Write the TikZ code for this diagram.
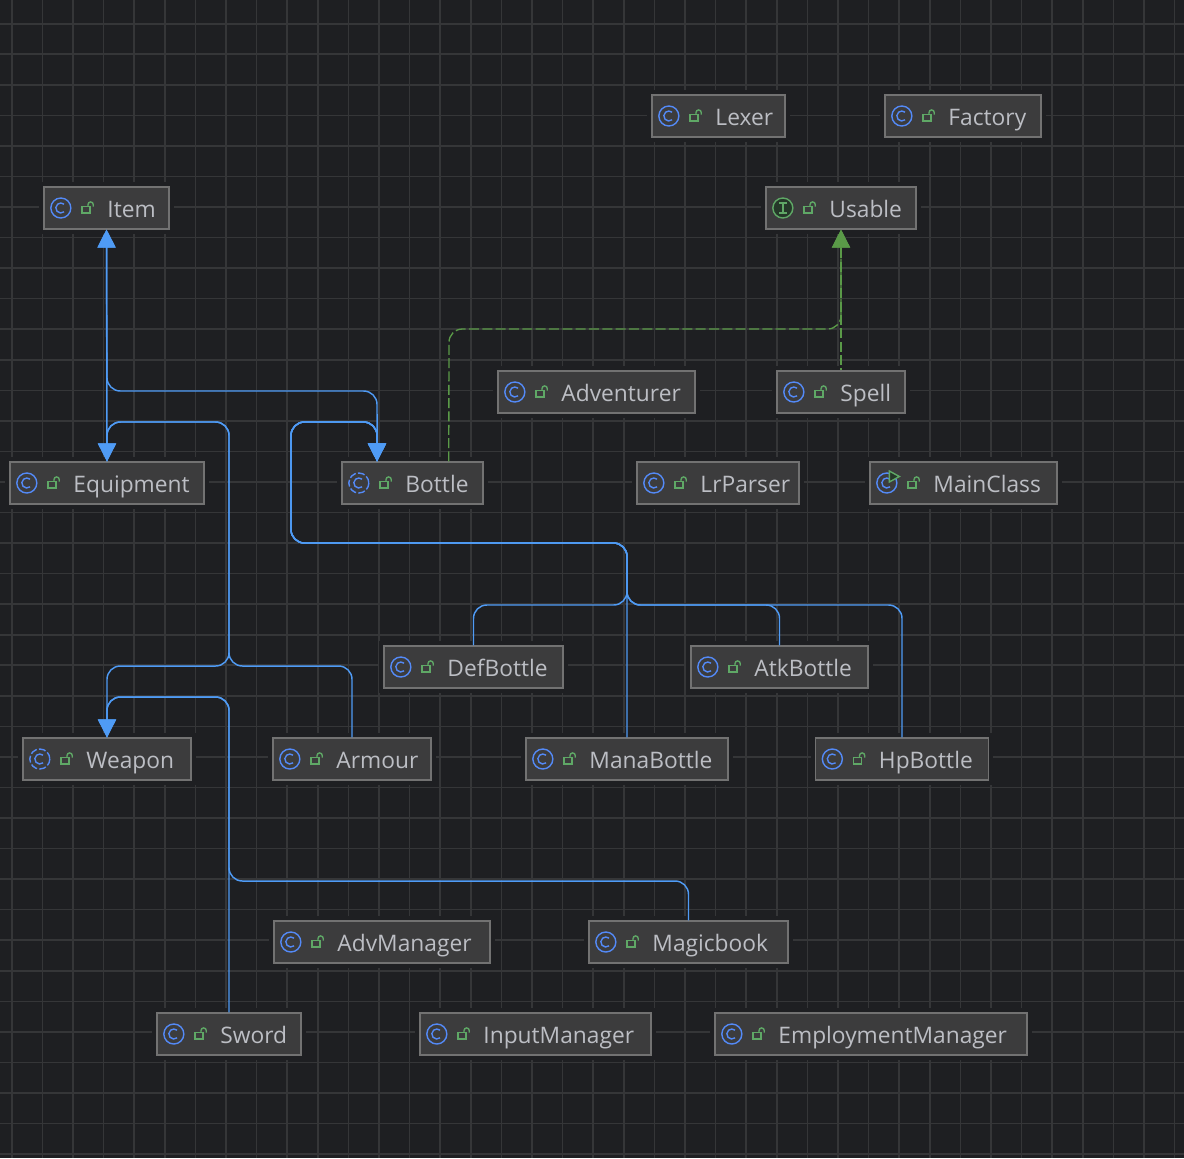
\documentclass[tikz,border=0pt]{standalone}
\usepackage{fontspec}
\setmainfont{Open Sans}
\usepackage{tikz}
\usetikzlibrary{arrows.meta}

\definecolor{canvas}{HTML}{1E1F22}
\definecolor{gridline}{HTML}{353638}
\definecolor{boxfill}{HTML}{3C3C3D}
\definecolor{boxline}{HTML}{727272}
\definecolor{label}{HTML}{BCBEC4}
\definecolor{iconblue}{HTML}{548AF7}
\definecolor{icongreen}{HTML}{5FA866}
\definecolor{ifacefill}{HTML}{253829}
\definecolor{extblue}{HTML}{4F9BF5}
\definecolor{implgreen}{HTML}{5A9A48}

\begin{document}
\begin{tikzpicture}[
  x=0.75pt, y=-0.75pt,
  font=\fontsize{17bp}{21bp}\selectfont,
  box/.style={draw=boxline, fill=boxfill, line width=1pt, text=label,
              preaction={draw=canvas, line width=7pt},
              minimum height=31.3pt, inner xsep=0pt, inner ysep=0pt, align=left,
              text height=15pt, text depth=1.5pt,
              execute at begin node={\hspace*{47.6pt}}},
  wd/.style={minimum width=#1*0.75pt, text width=#1*0.75pt},
  icon/.style={line width=1.05pt},
  lockmark/.pic={
    \draw[icon, icongreen] (38.7,-1.5) rectangle (46.7,5);
    \draw[icon, icongreen] (44.7,-1.5) -- (44.7,-3.5)
      arc[start angle=180, end angle=360, radius=2.6] -- (49.9,-1.5);
  },
  cmark/.pic={
    \draw[icon, iconblue] (17.5,0) ++(50:5) arc[start angle=50, end angle=310, radius=5];
  },
  klasspic/.pic={
    \draw[icon, iconblue] (17.5,0) circle[radius=10];
    \pic {cmark}; \pic {lockmark};
  },
  abstrpic/.pic={
    \draw[icon, iconblue, dash pattern=on 5.2pt off 1.7pt] (17.5,0) circle[radius=10];
    \pic {cmark}; \pic {lockmark};
  },
  ifacepic/.pic={
    \draw[icon, icongreen, fill=ifacefill] (17.5,0) circle[radius=10];
    \draw[icon, icongreen] (13.5,-5) -- (21.5,-5) (17.5,-5) -- (17.5,5) (13.5,5) -- (21.5,5);
    \pic {lockmark};
  },
  runnerpic/.pic={
    \draw[icon, iconblue] (17.5,0) circle[radius=10];
    \pic {cmark};
    \draw[icon, icongreen, fill=ifacefill] (20,-12) -- (30,-6.5) -- (20,-1) -- cycle;
    \pic {lockmark};
  },
  klass/.style={box, append after command={pic at (\tikzlastnode.west) {klasspic}}},
  abstr/.style={box, append after command={pic at (\tikzlastnode.west) {abstrpic}}},
  iface/.style={box, append after command={pic at (\tikzlastnode.west) {ifacepic}}},
  runner/.style={box, append after command={pic at (\tikzlastnode.west) {runnerpic}}},
  ext/.style={draw=extblue, line width=1.1pt, rounded corners=10pt,
              -{Triangle[length=13.5pt, width=13.5pt]}},
  impl/.style={draw=implgreen, line width=1pt, rounded corners=10pt, dash pattern=on 7.5pt off 2.5pt,
               -{Triangle[length=13.5pt, width=13.5pt, fill=implgreen]}}
]
\useasboundingbox (0,0) rectangle (1184,1158);
\fill[canvas] (0,0) rectangle (1184,1158);
% grid
\foreach \k in {0,...,38} {
  \draw[gridline, line width=1.2pt] ({11.7+30.6*\k},0) -- ({11.7+30.6*\k},1158);
  \draw[gridline, line width=1.2pt] (0,{23.7+30.55*\k}) -- (1184,{23.7+30.55*\k});
}

\node[klass, wd=133] (lexer) at (718.5,116) {Lexer};
\node[klass, wd=156] (factory) at (963,116) {Factory};
\node[klass, wd=125] (item) at (106.5,208) {Item};
\node[iface, wd=150] (usable) at (841,208) {Usable};
\node[klass, wd=197] (adventurer) at (596.5,392) {Adventurer};
\node[klass, wd=128] (spell) at (841,392) {Spell};
\node[klass, wd=194] (equip) at (107,483) {Equipment};
\node[abstr, wd=141] (bottle) at (412.5,483) {Bottle};
\node[klass, wd=162] (lrparser) at (718,483) {LrParser};
\node[runner, wd=187] (mainclass) at (963.5,483) {MainClass};
\node[klass, wd=179] (defbottle) at (473.5,667) {DefBottle};
\node[klass, wd=177] (atkbottle) at (779.5,667) {AtkBottle};
\node[abstr, wd=168] (weapon) at (107,759) {Weapon};
\node[klass, wd=158] (armour) at (352,759) {Armour};
\node[klass, wd=202] (manabottle) at (627,759) {ManaBottle};
\node[klass, wd=173] (hpbottle) at (902,759) {HpBottle};
\node[klass, wd=216] (advmanager) at (382,942) {AdvManager};
\node[klass, wd=199] (magicbook) at (688.5,942) {Magicbook};
\node[klass, wd=144] (sword) at (229,1034) {Sword};
\node[klass, wd=231] (inputmanager) at (535.5,1034) {InputManager};
\node[klass, wd=312] (employmgr) at (871,1034) {EmploymentManager};

\coordinate (bottlein) at ([xshift=-26.6pt]bottle.north);
\coordinate (bottleout) at ([xshift=27.2pt]bottle.north);

% equipment branch
\draw[ext] (equip.north) -- (item.south);
\draw[ext] (bottlein) -- (377,391) -- (107,391) -- (item.south);
\draw[ext] (weapon.north) -- (107,666) -- (229,666) -- (229,422) -- (107,422) -- (equip.north);
\draw[ext] (armour.north) -- (352,666) -- (229,666) -- (229,422) -- (107,422) -- (equip.north);
\draw[ext] (sword.north) -- (229,697) -- (107,697) -- (weapon.north);
\draw[ext] (magicbook.north) -- (688.5,881) -- (229,881) -- (229,697) -- (107,697) -- (weapon.north);
% bottle branch
\draw[ext] (defbottle.north) -- (473.5,605) -- (627,605) -- (627,543) -- (291,543) -- (291,422) -- (377,422) -- (bottlein);
\draw[ext] (atkbottle.north) -- (779.5,605) -- (627,605) -- (627,543) -- (291,543) -- (291,422) -- (377,422) -- (bottlein);
\draw[ext] (manabottle.north) -- (627,543) -- (291,543) -- (291,422) -- (377,422) -- (bottlein);
\draw[ext] (hpbottle.north) -- (902,605) -- (627,605) -- (627,543) -- (291,543) -- (291,422) -- (377,422) -- (bottlein);
% implements
\draw[impl] (bottleout) -- (449,329) -- (841,329) -- (usable.south);
\draw[impl, dash phase=6pt] (spell.north) -- (usable.south);
\end{tikzpicture}
\end{document}
